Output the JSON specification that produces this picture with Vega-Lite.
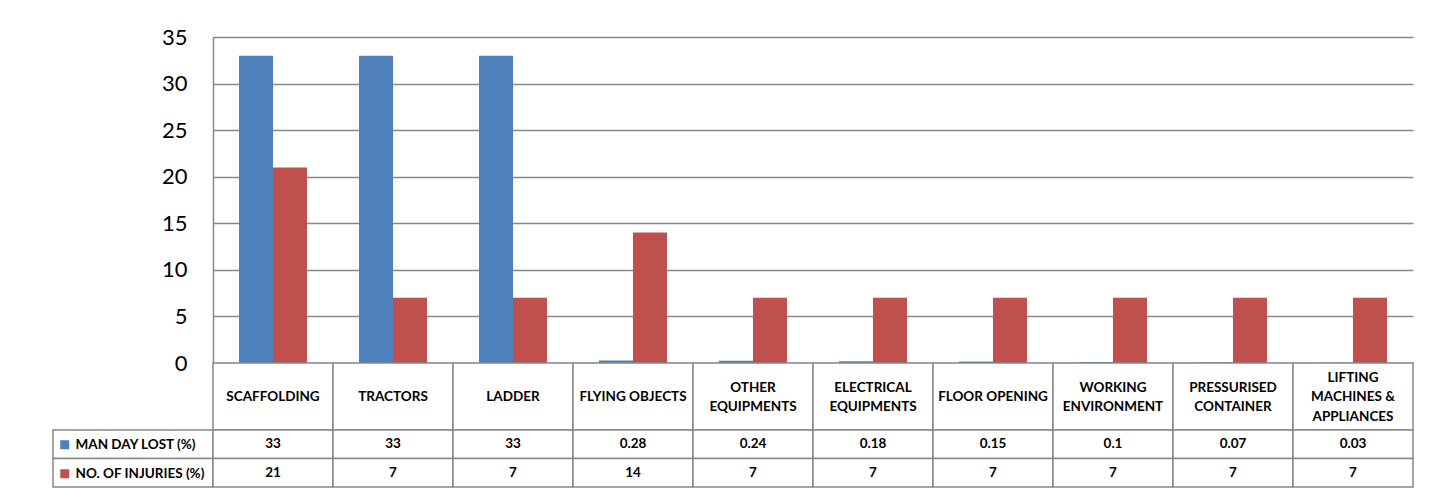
{
  "$schema": "https://vega.github.io/schema/vega-lite/v6.json",
  "padding": {"left": 52, "top": 26, "right": 0, "bottom": 0},
  "background": "white",
  "datasets": {
    "injuries": [
      {"category": "SCAFFOLDING", "series": "MAN DAY LOST (%)", "value": 33},
      {"category": "TRACTORS", "series": "MAN DAY LOST (%)", "value": 33},
      {"category": "LADDER", "series": "MAN DAY LOST (%)", "value": 33},
      {"category": "FLYING OBJECTS", "series": "MAN DAY LOST (%)", "value": 0.28},
      {"category": "OTHER\nEQUIPMENTS", "series": "MAN DAY LOST (%)", "value": 0.24},
      {"category": "ELECTRICAL\nEQUIPMENTS", "series": "MAN DAY LOST (%)", "value": 0.18},
      {"category": "FLOOR OPENING", "series": "MAN DAY LOST (%)", "value": 0.15},
      {"category": "WORKING\nENVIRONMENT", "series": "MAN DAY LOST (%)", "value": 0.1},
      {"category": "PRESSURISED\nCONTAINER", "series": "MAN DAY LOST (%)", "value": 0.07},
      {"category": "LIFTING\nMACHINES &\nAPPLIANCES", "series": "MAN DAY LOST (%)", "value": 0.03},
      {"category": "SCAFFOLDING", "series": "NO. OF INJURIES (%)", "value": 21},
      {"category": "TRACTORS", "series": "NO. OF INJURIES (%)", "value": 7},
      {"category": "LADDER", "series": "NO. OF INJURIES (%)", "value": 7},
      {"category": "FLYING OBJECTS", "series": "NO. OF INJURIES (%)", "value": 14},
      {"category": "OTHER\nEQUIPMENTS", "series": "NO. OF INJURIES (%)", "value": 7},
      {"category": "ELECTRICAL\nEQUIPMENTS", "series": "NO. OF INJURIES (%)", "value": 7},
      {"category": "FLOOR OPENING", "series": "NO. OF INJURIES (%)", "value": 7},
      {"category": "WORKING\nENVIRONMENT", "series": "NO. OF INJURIES (%)", "value": 7},
      {"category": "PRESSURISED\nCONTAINER", "series": "NO. OF INJURIES (%)", "value": 7},
      {"category": "LIFTING\nMACHINES &\nAPPLIANCES", "series": "NO. OF INJURIES (%)", "value": 7}
    ]
  },
  "columns": 2,
  "spacing": 0,
  "bounds": "flush",
  "align": "each",
  "concat": [
    {
      "width": 160, "height": 326,
      "data": {"values": []},
      "mark": "rect",
      "encoding": {}
    },
    {
      "width": 1200, "height": 326,
      "data": {"name": "injuries"},
      "mark": {"type": "bar", "strokeWidth": 0},
      "encoding": {
        "x": {"field": "category", "type": "nominal", "sort": null,
              "scale": {"paddingInner": 0, "paddingOuter": 0}, "axis": null},
        "xOffset": {"field": "series", "type": "nominal",
              "scale": {"domain": ["MAN DAY LOST (%)", "NO. OF INJURIES (%)"], "paddingInner": 0, "paddingOuter": 0.765}},
        "y": {"field": "value", "type": "quantitative",
              "scale": {"domain": [0, 35], "nice": false},
              "axis": {"title": null, "values": [0, 5, 10, 15, 20, 25, 30, 35], "grid": true,
                       "gridColor": "#888888", "gridWidth": 1.5, "domainColor": "#888888", "domainWidth": 1.5,
                       "ticks": false, "labelPadding": 26, "labelFontSize": 22, "labelFont": "Lato",
                       "labelColor": "#000000"}},
        "color": {"field": "series", "type": "nominal",
              "scale": {"domain": ["MAN DAY LOST (%)", "NO. OF INJURIES (%)"], "range": ["#4F81BD", "#C0504D"]},
              "legend": {"orient": "none", "legendX": 5, "legendY": 401, "title": null,
                         "symbolType": "square", "symbolSize": 81, "symbolStrokeWidth": 0, "symbolOpacity": 1,
                         "labelFontSize": 13.5, "labelFontWeight": "bold", "labelFont": "Lato", "labelColor": "#000000",
                         "rowPadding": 14, "labelOffset": 4, "padding": 0}}
      }
    },
    {
      "width": 160, "height": 67,
      "data": {"values": []},
      "mark": "rect",
      "encoding": {}
    },
    {
      "width": 1200, "height": 67,
      "data": {"name": "injuries"},
      "transform": [{"filter": {"field": "series", "equal": "MAN DAY LOST (%)"}}],
      "encoding": {
        "x": {"field": "category", "type": "nominal", "sort": null,
              "scale": {"paddingInner": 0, "paddingOuter": 0}, "axis": null}
      },
      "layer": [
        {"mark": {"type": "rect", "fill": "white", "stroke": "#888888", "strokeWidth": 1.5}},
        {"transform": [{"filter": "length(split(datum.category, '\\n')) == 1"}],
         "mark": {"type": "text", "fontSize": 13.5, "fontWeight": "bold", "font": "Lato", "lineBreak": "\n",
                  "lineHeight": 19.5, "baseline": "middle", "align": "center", "color": "#000000", "dy": 0.5},
         "encoding": {"text": {"field": "category", "type": "nominal"}}},
        {"transform": [{"filter": "length(split(datum.category, '\\n')) == 2"}],
         "mark": {"type": "text", "fontSize": 13.5, "fontWeight": "bold", "font": "Lato", "lineBreak": "\n",
                  "lineHeight": 19.5, "baseline": "middle", "align": "center", "color": "#000000", "dy": -9},
         "encoding": {"text": {"field": "category", "type": "nominal"}}},
        {"transform": [{"filter": "length(split(datum.category, '\\n')) == 3"}],
         "mark": {"type": "text", "fontSize": 13.5, "fontWeight": "bold", "font": "Lato", "lineBreak": "\n",
                  "lineHeight": 19.5, "baseline": "middle", "align": "center", "color": "#000000", "dy": -19},
         "encoding": {"text": {"field": "category", "type": "nominal"}}}
      ]
    },
    {
      "width": 160, "height": 57,
      "data": {"name": "injuries"},
      "transform": [{"aggregate": [], "groupby": ["series"]}],
      "mark": {"type": "rect", "fill": "white", "stroke": "#888888", "strokeWidth": 1.5},
      "encoding": {
        "y": {"field": "series", "type": "nominal",
              "scale": {"domain": ["MAN DAY LOST (%)", "NO. OF INJURIES (%)"], "paddingInner": 0, "paddingOuter": 0}, "axis": null}
      }
    },
    {
      "width": 1200, "height": 57,
      "data": {"name": "injuries"},
      "encoding": {
        "x": {"field": "category", "type": "nominal", "sort": null,
              "scale": {"paddingInner": 0, "paddingOuter": 0}, "axis": null},
        "y": {"field": "series", "type": "nominal",
              "scale": {"domain": ["MAN DAY LOST (%)", "NO. OF INJURIES (%)"], "paddingInner": 0, "paddingOuter": 0}, "axis": null}
      },
      "layer": [
        {"mark": {"type": "rect", "fill": "white", "stroke": "#888888", "strokeWidth": 1.5}},
        {"mark": {"type": "text", "fontSize": 13.5, "fontWeight": "bold", "font": "Lato",
                  "baseline": "middle", "align": "center", "color": "#000000"},
         "encoding": {"text": {"field": "value", "type": "nominal"}}}
      ]
    }
  ],
  "config": {"view": {"stroke": null}, "font": "Lato"}
}
